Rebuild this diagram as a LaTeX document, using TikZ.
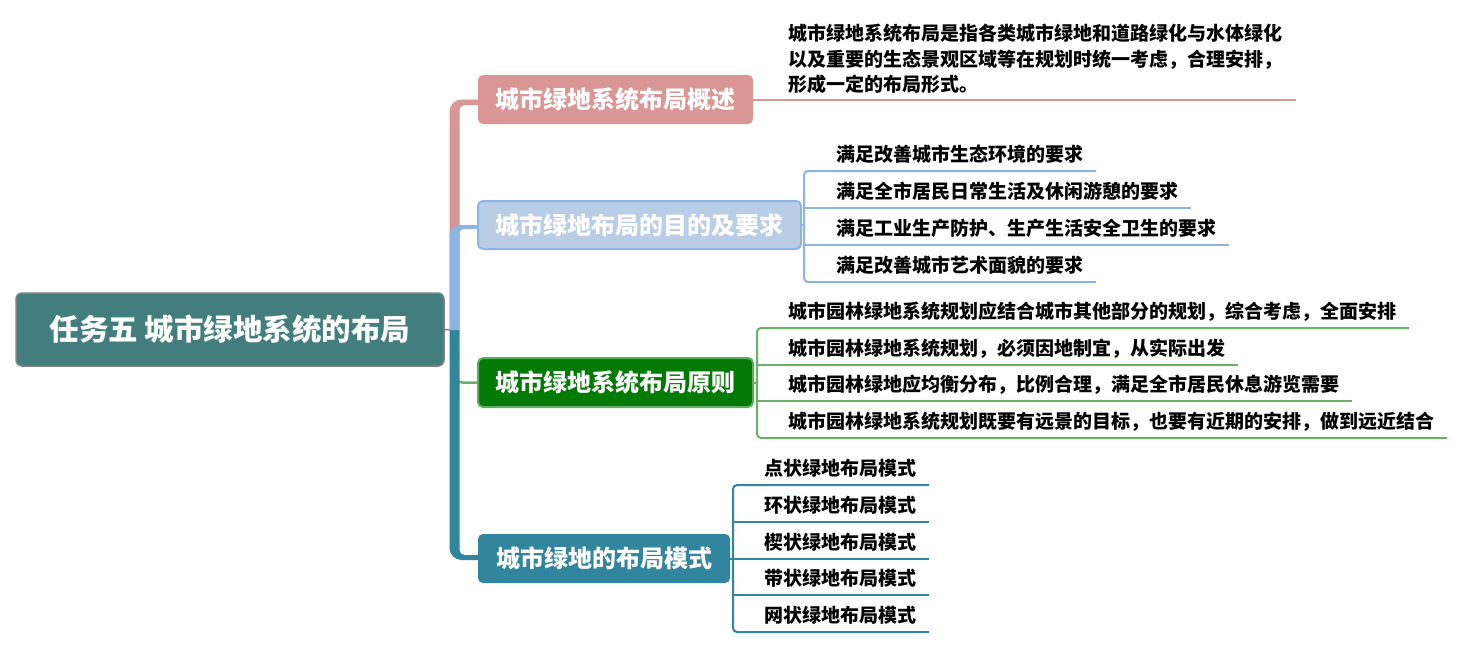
\documentclass[tikz,border=0pt]{standalone}
\usepackage{fontspec}
\setmainfont{Noto Sans CJK SC}
\usetikzlibrary{calc}
\pgfdeclarelayer{bg}
\pgfsetlayers{bg,main}
\definecolor{rootfill}{RGB}{66,126,125}
\definecolor{rootline}{RGB}{128,128,128}
\definecolor{pinkc}{RGB}{217,150,148}
\definecolor{bluefill}{RGB}{185,205,229}
\definecolor{bluel}{RGB}{142,180,227}
\definecolor{greenfill}{RGB}{3,122,3}
\definecolor{greenborder}{RGB}{96,172,96}
\definecolor{greenl}{RGB}{106,176,106}
\definecolor{tealc}{RGB}{49,133,156}
\begin{document}
\begin{tikzpicture}[x=1pt,y=-1pt,
  every node/.style={inner sep=0pt, outer sep=0pt},
  rootnode/.style={rounded corners=6pt, fill=rootfill, draw=rootline, line width=1.5pt,
    text=white, font=\bfseries\fontsize{29.5}{29.5}\selectfont, minimum width=428pt, minimum height=73pt},
  topic/.style={rounded corners=5pt, text=white, font=\bfseries\fontsize{24}{24}\selectfont, minimum height=49pt},
  leaf/.style={anchor=south west, font=\bfseries\fontsize{19}{19}\selectfont, text height=16pt, text depth=9.5pt},
  leafline/.style={line width=2pt, rounded corners=4pt}
]
\useasboundingbox (0,0) rectangle (1465,649);

% root and main topics
\node[rootnode] (root) at (230,329.5) {任务五 城市绿地系统的布局};
\coordinate (hub) at (454.5,330);
\node[topic, fill=pinkc, minimum width=275pt] (c1) at (615.5,99.5) {城市绿地系统布局概述};
\node[topic, fill=bluefill, draw=bluel, line width=2pt, minimum width=323pt, minimum height=48pt] (c2) at (639.5,225) {城市绿地布局的目的及要求};
\node[topic, fill=greenfill, draw=greenborder, line width=2pt, minimum width=275pt] (c3) at (615.5,382.5) {城市绿地系统布局原则};
\node[topic, fill=tealc, minimum width=252pt] (c4) at (604,558.5) {城市绿地的布局模式};

\coordinate (k1) at (hub |- c1.west);
\coordinate (k2) at (hub |- c2.west);
\coordinate (k4) at (hub |- c4.west);

\begin{pgfonlayer}{bg}
\draw[rootline, line width=1.5pt] (root.east) -- (hub);
% pink branch
\fill[pinkc] ($(hub)+(-5,0)$) -- ($(k1)+(-5,12)$) .. controls ($(k1)+(-5,5.4)$) and ($(k1)+(0.4,0)$) .. ($(k1)+(7,0)$)
  -- (c1.west) -- ($(c1.west)+(0,5.5)$) -- ($(k1)+(10,5.5)$) .. controls ($(k1)+(7.25,5.5)$) and ($(k1)+(5,7.75)$) .. ($(k1)+(5,10.5)$)
  -- ($(hub)+(5,0)$) -- cycle;
% green branch
\draw[greenl, line width=2.5pt, rounded corners=8pt] (hub) |- (c3.west);
% teal branch
\fill[tealc] ($(hub)+(-5,0)$) -- ($(k4)+(-5,-10.5)$) .. controls ($(k4)+(-5,-3.9)$) and ($(k4)+(0.4,1.5)$) .. ($(k4)+(7,1.5)$)
  -- ($(c4.west)+(0,1.5)$) -- ($(c4.west)+(0,-3.5)$) -- ($(k4)+(10,-3.5)$) .. controls ($(k4)+(7.25,-3.5)$) and ($(k4)+(5,-5.75)$) .. ($(k4)+(5,-8.5)$)
  -- ($(hub)+(5,0)$) -- cycle;
% blue branch
\fill[bluel] ($(hub)+(-5,0)$) -- ($(k2)+(-5,10)$) .. controls ($(k2)+(-5,4.5)$) and ($(k2)+(-0.5,0)$) .. ($(k2)+(5,0)$)
  -- (c2.west) -- ($(c2.west)+(0,4)$) -- ($(k2)+(9,4)$) .. controls ($(k2)+(6.8,4)$) and ($(k2)+(5,5.8)$) .. ($(k2)+(5,8)$)
  -- ($(hub)+(5,0)$) -- cycle;
\end{pgfonlayer}

% pink leaf
\node[font=\bfseries\fontsize{19}{25.5}\selectfont, align=left, anchor=base west] (pk) at (788,91.5)
  {城市绿地系统布局是指各类城市绿地和道路绿化与水体绿化\\以及重要的生态景观区域等在规划时统一考虑，合理安排，\\形成一定的布局形式。};
\coordinate (pkend) at (1296,99.5);
\draw[pinkc, line width=2pt] (c1.east) -- (pkend);

% blue leaves
\node[leaf] (b1) at (804,171) {\hspace*{32pt}满足改善城市生态环境的要求\hspace*{13pt}};
\node[leaf] (b2) at (804,208) {\hspace*{32pt}满足全市居民日常生活及休闲游憩的要求\hspace*{13pt}};
\node[leaf] (b3) at (804,245) {\hspace*{32pt}满足工业生产防护、生产生活安全卫生的要求\hspace*{13pt}};
\node[leaf] (b4) at (804,282) {\hspace*{32pt}满足改善城市艺术面貌的要求\hspace*{13pt}};
\draw[bluel, leafline] (b1.south east) -- (b1.south west) -- (b4.south west) -- (b4.south east);
\draw[bluel, leafline] (b2.south west) -- (b2.south east);
\draw[bluel, leafline] (b3.south west) -- (b3.south east);
\draw[bluel, leafline] (c2.east) -- (c2.east -| b1.west);

% green leaves
\node[leaf] (g1) at (757,328) {\hspace*{31pt}城市园林绿地系统规划应结合城市其他部分的规划，综合考虑，全面安排\hspace*{13pt}};
\node[leaf] (g2) at (757,364.7) {\hspace*{31pt}城市园林绿地系统规划，必须因地制宜，从实际出发\hspace*{13pt}};
\node[leaf] (g3) at (757,401.3) {\hspace*{31pt}城市园林绿地应均衡分布，比例合理，满足全市居民休息游览需要\hspace*{13pt}};
\node[leaf] (g4) at (757,438) {\hspace*{31pt}城市园林绿地系统规划既要有远景的目标，也要有近期的安排，做到远近结合\hspace*{13pt}};
\draw[greenl, leafline] (g1.south east) -- (g1.south west) -- (g4.south west) -- (g4.south east);
\draw[greenl, leafline] (g2.south west) -- (g2.south east);
\draw[greenl, leafline] (g3.south west) -- (g3.south east);
\draw[greenl, leafline] (c3.east) -- (c3.east -| g1.west);

% teal leaves
\node[leaf] (t1) at (733,485) {\hspace*{31pt}点状绿地布局模式\hspace*{13pt}};
\node[leaf] (t2) at (733,521.75) {\hspace*{31pt}环状绿地布局模式\hspace*{13pt}};
\node[leaf] (t3) at (733,558.5) {\hspace*{31pt}楔状绿地布局模式\hspace*{13pt}};
\node[leaf] (t4) at (733,595.25) {\hspace*{31pt}带状绿地布局模式\hspace*{13pt}};
\node[leaf] (t5) at (733,632) {\hspace*{31pt}网状绿地布局模式\hspace*{13pt}};
\draw[tealc, leafline] (t1.south east) -- (t1.south west) -- (t5.south west) -- (t5.south east);
\draw[tealc, leafline] (t2.south west) -- (t2.south east);
\draw[tealc, leafline] (t3.south west) -- (t3.south east);
\draw[tealc, leafline] (t4.south west) -- (t4.south east);
\draw[tealc, leafline] (c4.east) -- (c4.east -| t1.west);
\end{tikzpicture}
\end{document}
